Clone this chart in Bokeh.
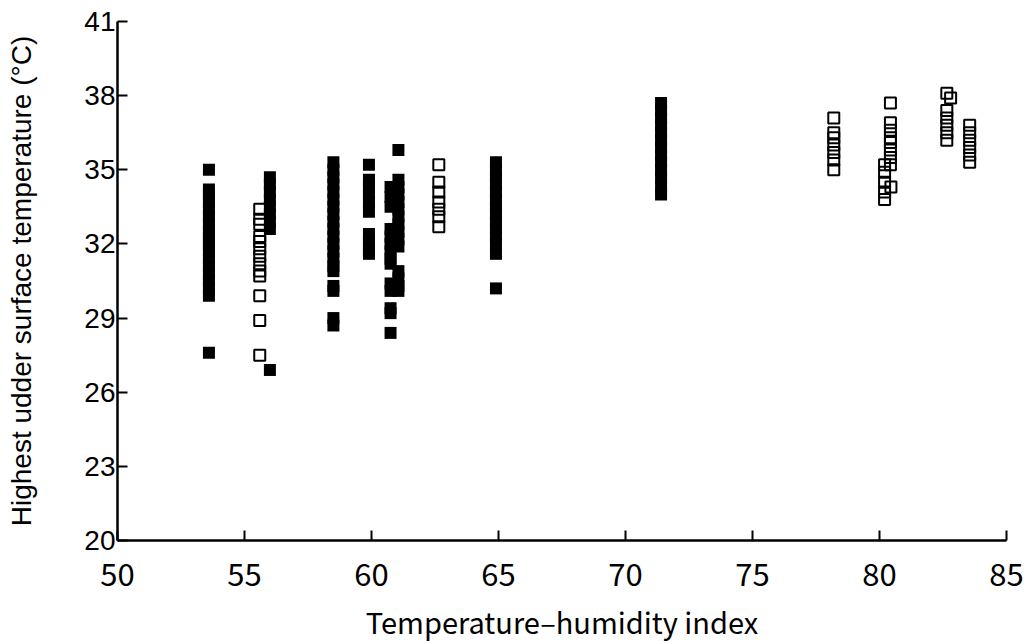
from bokeh.plotting import figure
from bokeh.models import FixedTicker, Range1d
from bokeh.embed import file_html
from bokeh.resources import INLINE

# ---- data ----
# filled squares: (THI, list of highest udder surface temperatures)
filled_groups = [
    (53.6, [35.0, 34.2, 34.0, 33.7, 33.4, 33.1, 32.8, 32.5, 32.2, 32.0, 31.7, 31.4,
            31.1, 30.8, 30.5, 30.2, 29.9, 27.6]),
    (56.0, [34.7, 34.4, 34.1, 33.8, 33.5, 33.2, 32.9, 32.6, 26.9]),
    (58.5, [35.3, 35.0, 34.7, 34.4, 34.1, 33.8, 33.5, 33.2, 32.9, 32.6, 32.3, 32.0,
            31.7, 31.4, 31.1, 30.9, 30.3, 30.1, 29.0, 28.7]),
    (59.9, [35.2, 34.6, 34.3, 34.0, 33.7, 33.3, 32.4, 32.1, 31.8, 31.6]),
    (60.75, [34.3, 33.9, 33.5, 32.6, 32.3, 32.0, 31.7, 31.4, 31.2, 30.4, 30.1,
             29.4, 29.2, 28.4]),
    (61.06, [35.8, 34.6, 34.3, 34.0, 33.7, 33.4, 33.1, 32.8, 32.5, 32.2, 31.9,
             30.9, 30.6, 30.3, 30.1]),
    (64.9, [35.3, 35.0, 34.7, 34.4, 34.1, 33.8, 33.5, 33.2, 32.9, 32.6, 32.3, 32.0,
            31.6, 30.2]),
    (71.4, [37.7, 37.4, 37.1, 36.8, 36.5, 36.2, 35.9, 35.6, 35.3, 35.0, 34.7, 34.3,
            34.0]),
]
# open squares
open_groups = [
    (55.6, [33.4, 33.0, 32.8, 32.3, 32.1, 31.8, 31.5, 31.2, 30.9, 30.7, 29.9, 28.9, 27.5]),
    (62.65, [35.2, 34.5, 34.1, 33.7, 33.4, 33.1, 32.7]),
    (78.2, [37.1, 36.5, 36.3, 36.0, 35.7, 35.4, 35.0]),
    (80.43, [37.7, 36.9, 36.6, 36.3, 36.1, 35.8, 35.5, 35.2]),
    (80.2, [35.2, 34.9, 34.5, 34.1, 33.8]),
    (80.45, [34.3]),
    (82.65, [38.1, 37.4, 37.1, 36.8, 36.5, 36.2]),
    (82.8, [37.9]),
    (83.55, [36.8, 36.5, 36.2, 35.9, 35.6, 35.3]),
]
x_ticks = [50, 55, 60, 65, 70, 75, 80, 85]
y_ticks = [20, 23, 26, 29, 32, 35, 38, 41]


def flatten(groups):
    xs, ys = [], []
    for thi, temps in groups:
        for t in temps:
            xs.append(thi)
            ys.append(t)
    return xs, ys


fx, fy = flatten(filled_groups)
ox, oy = flatten(open_groups)

p = figure(width=1026, height=644, output_backend="svg", toolbar_location=None,
           x_range=Range1d(50, 85), y_range=Range1d(20, 41),
           min_border_left=117, min_border_right=20, min_border_top=21,
           min_border_bottom=104)
p.outline_line_color = None
p.xgrid.visible = False
p.ygrid.visible = False
p.background_fill_color = "white"

p.scatter(x=fx, y=fy, marker="square", size=12, fill_color="black",
          line_color="black", line_width=0)
p.scatter(x=ox, y=oy, marker="square", size=11, fill_alpha=0,
          line_color="black", line_width=2)

for ax in (p.xaxis[0], p.yaxis[0]):
    ax.axis_line_width = 2.5
    ax.axis_line_color = "black"
    ax.major_tick_line_width = 2
    ax.major_tick_line_color = "black"
    ax.major_tick_in = 10
    ax.major_tick_out = 0
    ax.minor_tick_line_color = None
    ax.major_label_text_color = "black"
    ax.axis_label_text_color = "black"
    ax.axis_label_text_font_style = "normal"

p.xaxis.ticker = FixedTicker(ticks=x_ticks)
p.yaxis.ticker = FixedTicker(ticks=y_ticks)

p.xaxis.axis_label = "Temperature\u2013humidity index"
p.xaxis.major_label_text_font = "Noto Sans CJK JP"
p.xaxis.major_label_text_font_size = "31px"
p.xaxis.major_label_standoff = 22
p.xaxis.axis_label_text_font = "Noto Sans CJK JP"
p.xaxis.axis_label_text_font_size = "29px"
p.xaxis.axis_label_standoff = 11

p.yaxis.axis_label = "Highest udder surface temperature (\u00b0C)"
p.yaxis.major_label_text_font = "Liberation Sans"
p.yaxis.major_label_text_font_size = "28px"
p.yaxis.major_label_standoff = 2
p.yaxis.axis_label_text_font = "Liberation Sans"
p.yaxis.axis_label_text_font_size = "28px"
p.yaxis.axis_label_standoff = 44

open("out.html", "w").write(file_html(p, INLINE))
